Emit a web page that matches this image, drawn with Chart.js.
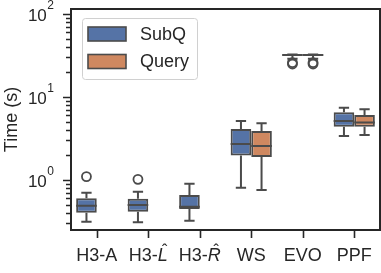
<!DOCTYPE html>
<html>
<head>
<meta charset="utf-8">
<script src="https://cdn.jsdelivr.net/npm/chart.js@4.4.1/dist/chart.umd.min.js"></script>
<style>html,body{margin:0;padding:0;background:#fff}</style>
</head>
<body>
<canvas id="chart" width="381" height="273"></canvas>
<script>
// Datos (escala log)
const categories = ['H3-A', 'H3-L\u0302', 'H3-R\u0302', 'WS', 'EVO', 'PPF'];
const seriesNames = ['SubQ', 'Query'];

const subqLow = [0.315, 0.309, 0.323, 0.807, 29.0, 3.39];
const subqQ1 = [0.404, 0.415, 0.447, 1.98, 31.8, 4.39];
const subqMed = [0.49, 0.50, 0.477, 2.71, 32.0, 5.14];
const subqQ3 = [0.602, 0.595, 0.66, 4.12, 32.2, 6.54];
const subqHigh = [0.703, 0.723, 0.90, 5.14, 32.5, 7.43];
const subqOut = [[1.1], [1.02], [], [], [26.0, 25.0], []];

const queryLow = [null, null, null, 0.758, 29.0, 3.49];
const queryQ1 = [null, null, null, 1.89, 31.8, 4.39];
const queryMed = [null, null, null, 2.57, 32.0, 4.95];
const queryQ3 = [null, null, null, 3.89, 32.2, 6.07];
const queryHigh = [null, null, null, 4.82, 32.5, 7.11];
const queryOut = [[], [], [], [], [26.0, 25.0], []];

const yMajorTicks = [1, 10, 100];
const yMinorTicks = [0.3, 0.4, 0.5, 0.6, 0.7, 0.8, 0.9, 2, 3, 4, 5, 6, 7, 8, 9, 20, 30, 40, 50, 60, 70, 80, 90];

const FONT = "'Liberation Sans', Arial, sans-serif";
const TEXT = '#262626';
const EDGE = '#4b4b4b';
const colors = ['#5573a6', '#cf8860'];

const stats = [
    { low: subqLow, q1: subqQ1, med: subqMed, q3: subqQ3, high: subqHigh, out: subqOut },
    { low: queryLow, q1: queryQ1, med: queryMed, q3: queryQ3, high: queryHigh, out: queryOut }
];

// bigotes, medianas y outliers encima de las cajas
const boxDecor = {
    id: 'boxDecor',
    afterDatasetsDraw(chart) {
        const ctx = chart.ctx;
        const y = chart.scales.y;
        ctx.save();
        ctx.strokeStyle = EDGE;
        ctx.lineWidth = 2;
        stats.forEach((s, d) => {
            const meta = chart.getDatasetMeta(d);
            meta.data.forEach((el, i) => {
                if (s.q1[i] == null) return;
                const x = el.x, w = el.width;
                const cap = w / 4;
                const yq1 = y.getPixelForValue(s.q1[i]);
                const yq3 = y.getPixelForValue(s.q3[i]);
                const ylo = y.getPixelForValue(s.low[i]);
                const yhi = y.getPixelForValue(s.high[i]);
                const ymed = y.getPixelForValue(s.med[i]);
                ctx.beginPath();
                ctx.moveTo(x, yq3); ctx.lineTo(x, yhi);
                ctx.moveTo(x - cap, yhi); ctx.lineTo(x + cap, yhi);
                ctx.moveTo(x, yq1); ctx.lineTo(x, ylo);
                ctx.moveTo(x - cap, ylo); ctx.lineTo(x + cap, ylo);
                ctx.moveTo(x - w / 2, ymed); ctx.lineTo(x + w / 2, ymed);
                ctx.stroke();
                ctx.lineWidth = 1.8;
                s.out[i].forEach(v => {
                    ctx.beginPath();
                    ctx.arc(x, y.getPixelForValue(v), 4.5, 0, Math.PI * 2);
                    ctx.stroke();
                });
                ctx.lineWidth = 2;
            });
        });
        ctx.restore();
    }
};

// marco, ticks, etiquetas y leyenda estilo seaborn
const axesDecor = {
    id: 'axesDecor',
    afterDraw(chart) {
        const ctx = chart.ctx;
        const a = chart.chartArea;
        const xs = chart.scales.x, ys = chart.scales.y;
        ctx.save();
        ctx.strokeStyle = TEXT;
        ctx.fillStyle = TEXT;
        ctx.lineWidth = 2;
        ctx.strokeRect(a.left, a.top, a.right - a.left, a.bottom - a.top);

        // ticks y
        ctx.lineWidth = 1.6;
        ctx.beginPath();
        yMajorTicks.forEach(v => {
            const py = Math.round(ys.getPixelForValue(v)) + 0.5;
            ctx.moveTo(a.left - 8, py); ctx.lineTo(a.left, py);
        });
        yMinorTicks.forEach(v => {
            const py = Math.round(ys.getPixelForValue(v)) + 0.5;
            ctx.moveTo(a.left - 5, py); ctx.lineTo(a.left, py);
        });
        ctx.stroke();

        // etiquetas y: 10^n
        yMajorTicks.forEach(v => {
            const py = ys.getPixelForValue(v);
            const exp = String(Math.round(Math.log10(v)));
            ctx.font = '12px ' + FONT;
            const sw = ctx.measureText(exp).width;
            const right = 54;
            ctx.textAlign = 'right';
            ctx.textBaseline = 'alphabetic';
            ctx.fillText(exp, right, py - 5.5);
            ctx.font = '17px ' + FONT;
            ctx.fillText('10', right - sw - 0.5, py + 7);
        });

        // ticks x y etiquetas
        ctx.beginPath();
        categories.forEach((c, i) => {
            const px = Math.round(xs.getPixelForTick(i)) + 0.5;
            ctx.moveTo(px, a.bottom); ctx.lineTo(px, a.bottom + 8);
        });
        ctx.stroke();
        ctx.textBaseline = 'alphabetic';
        ctx.textAlign = 'left';
        categories.forEach((c, i) => {
            const cx = xs.getPixelForTick(i);
            const base = 261;
            if (c.includes('\u0302')) {
                const prefix = c.slice(0, -2), letter = c.slice(-2, -1);
                ctx.font = '18px ' + FONT;
                const w1 = ctx.measureText(prefix).width;
                ctx.font = 'italic 18px ' + FONT;
                const w2 = ctx.measureText(letter).width;
                let x0 = cx - (w1 + w2) / 2;
                ctx.font = '18px ' + FONT;
                ctx.fillText(prefix, x0, base);
                ctx.font = 'italic 18px ' + FONT;
                ctx.fillText(letter, x0 + w1, base);
                ctx.font = '16px ' + FONT;
                ctx.textAlign = 'center';
                ctx.fillText('\u02C6', x0 + w1 + w2 / 2 + 2, base - 5);
                ctx.textAlign = 'left';
            } else {
                ctx.font = '18px ' + FONT;
                ctx.textAlign = 'center';
                ctx.fillText(c, cx, base);
                ctx.textAlign = 'left';
            }
        });

        // titulo eje y
        ctx.save();
        ctx.translate(12, (a.top + a.bottom) / 2);
        ctx.rotate(-Math.PI / 2);
        ctx.font = '18px ' + FONT;
        ctx.textAlign = 'center';
        ctx.textBaseline = 'middle';
        ctx.fillText('Time (s)', 0, 0);
        ctx.restore();

        // leyenda
        ctx.beginPath();
        ctx.roundRect(82.5, 18.5, 115, 61, 3);
        ctx.fillStyle = 'rgba(255,255,255,0.8)';
        ctx.fill();
        ctx.strokeStyle = '#d0d0d0';
        ctx.lineWidth = 1;
        ctx.stroke();
        seriesNames.forEach((n, k) => {
            const top = 27 + k * 27.5;
            ctx.fillStyle = colors[k];
            ctx.fillRect(88, top, 38, 14);
            ctx.strokeStyle = EDGE;
            ctx.lineWidth = 1.6;
            ctx.strokeRect(88, top, 38, 14);
            ctx.fillStyle = TEXT;
            ctx.font = '18px ' + FONT;
            ctx.textAlign = 'left';
            ctx.textBaseline = 'middle';
            ctx.fillText(n, 140, top + 8);
        });
        ctx.restore();
    }
};

const ctx = document.getElementById('chart').getContext('2d');
new Chart(ctx, {
    type: 'bar',
    data: {
        labels: categories,
        datasets: stats.map((s, d) => ({
            label: seriesNames[d],
            data: categories.map((_, i) => s.q1[i] == null ? null : [s.q1[i], s.q3[i]]),
            backgroundColor: colors[d],
            borderColor: EDGE,
            borderWidth: 2,
            borderSkipped: false,
            categoryPercentage: 0.8,
            barPercentage: 1.0
        }))
    },
    options: {
        responsive: false,
        animation: false,
        devicePixelRatio: 1,
        layout: { padding: { left: 71, right: 1, top: 9, bottom: 43 } },
        plugins: { legend: { display: false }, tooltip: { enabled: false } },
        scales: {
            x: { display: false, offset: true },
            y: { type: 'logarithmic', display: false, min: 0.25, max: 115 }
        }
    },
    plugins: [boxDecor, axesDecor]
});
</script>
</body>
</html>
